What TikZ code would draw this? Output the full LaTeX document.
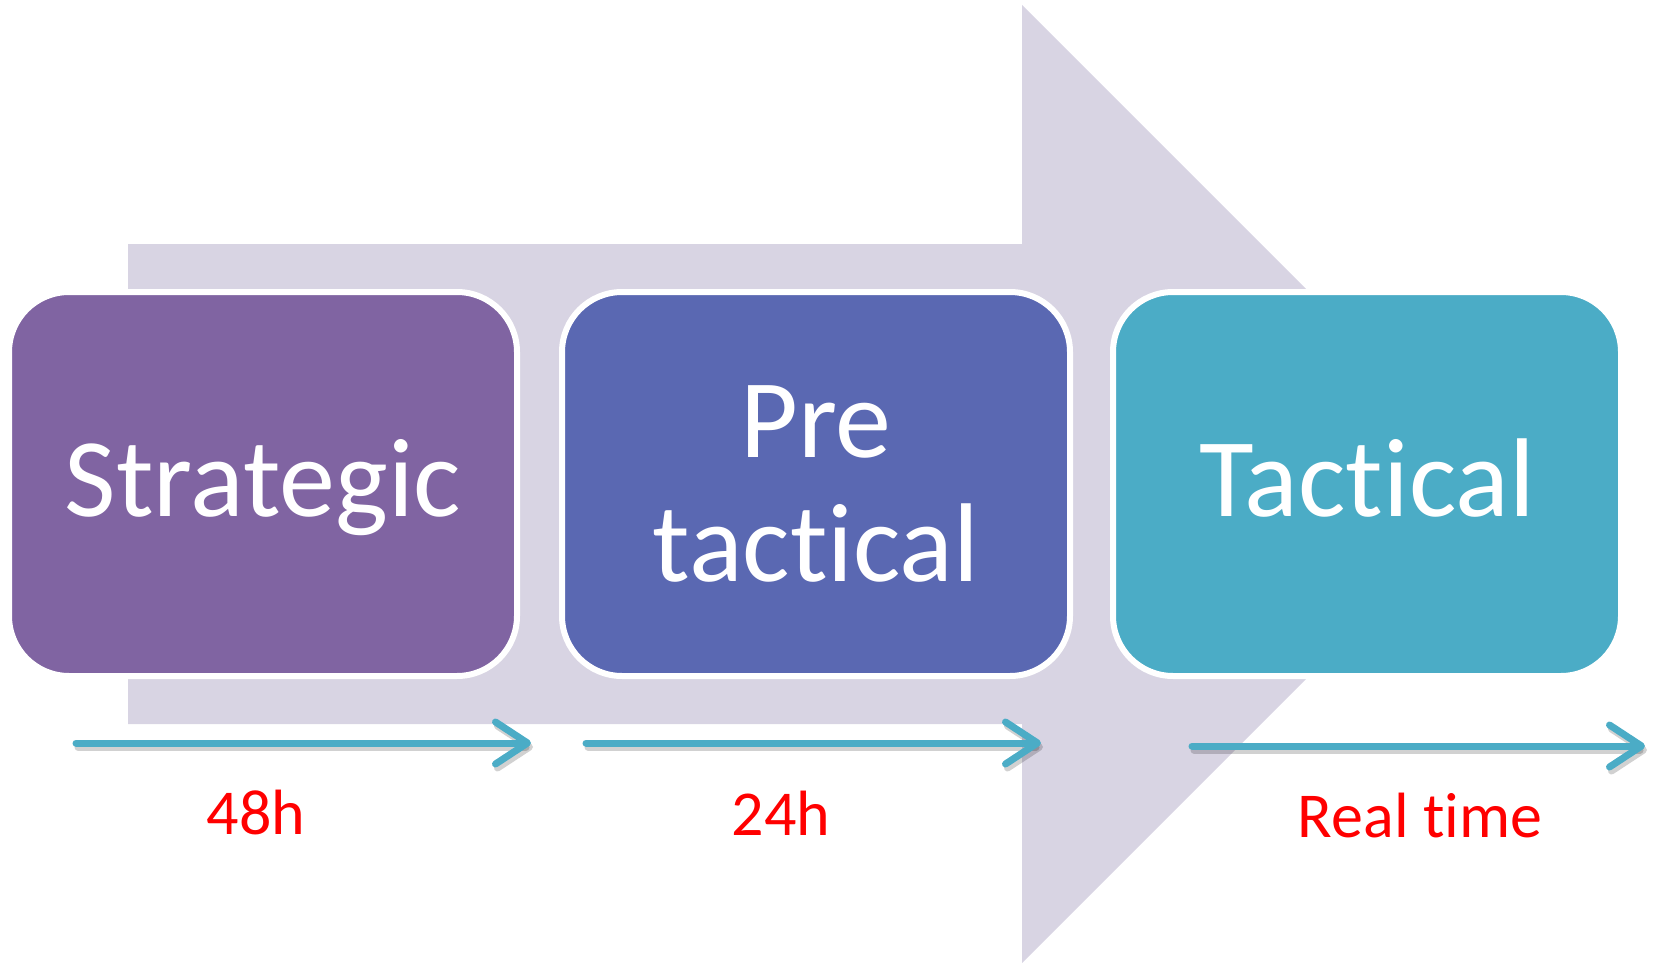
\documentclass[tikz,border=0pt]{standalone}
\usepackage{fontspec}
\setmainfont[Ligatures={NoCommon}]{Carlito}
\usetikzlibrary{arrows.meta, positioning}
\definecolor{bigarrow}{HTML}{D8D4E3}
\definecolor{phaseA}{HTML}{8064A2}
\definecolor{phaseB}{HTML}{5A68B2}
\definecolor{phaseC}{HTML}{4BACC6}
\definecolor{timeline}{HTML}{4BACC6}

\begin{document}
\begin{tikzpicture}[x=0.5pt, y=-0.5pt,
    phase/.style={draw=white, line width=3pt, rounded corners=30pt, minimum width=254pt, minimum height=192pt, text=white, align=center, font=\fontsize{56}{62}\selectfont},
    oneline/.style={text height=44pt, text depth=12pt},
    timearrow/.style={line width=3.5pt, timeline, line cap=round, -{Straight Barb[length=16pt, width=21pt, round]}},
    shadowarrow/.style={line width=3.5pt, black, opacity=0.18, line cap=round, -{Straight Barb[length=16pt, width=21pt, round]}},
    timelabel/.style={text=red, font=\fontsize{32}{36}\selectfont}]
    \useasboundingbox (0,0) rectangle (1656,963);

    % big background arrow
    \fill[bigarrow] (128,244) -- (1022,244) -- (1022,5) -- (1501,484)
        -- (1022,963) -- (1022,724) -- (128,724) -- cycle;

    % phases
    \node[phase, oneline, fill=phaseA] (strategic) at (263,484) {Strategic};
    \node[phase, fill=phaseB] (pretactical) at (816,484) {Pre\\tactical};
    \node[phase, oneline, fill=phaseC] (tactical) at (1367,484) {Tactical};

    % time arrows
    \coordinate (a1s) at (76,743);   \coordinate (a1e) at (531,743);
    \coordinate (a2s) at (586,743);  \coordinate (a2e) at (1041,743);
    \coordinate (a3s) at (1192,746); \coordinate (a3e) at (1645,746);
    \draw[shadowarrow] ([shift={(2,4)}]a1s) -- ([shift={(2,4)}]a1e);
    \draw[shadowarrow] ([shift={(2,4)}]a2s) -- ([shift={(2,4)}]a2e);
    \draw[shadowarrow] ([shift={(2,4)}]a3s) -- ([shift={(2,4)}]a3e);
    \draw[timearrow] (a1s) -- (a1e);
    \draw[timearrow] (a2s) -- (a2e);
    \draw[timearrow] (a3s) -- (a3e);

    \node[timelabel] (lbl48) at (256,813) {48h};
    \node[timelabel] (lbl24) at (781,813) {24h};
    \node[timelabel] (lblrt) at (1420,816) {Real time};
\end{tikzpicture}
\end{document}
